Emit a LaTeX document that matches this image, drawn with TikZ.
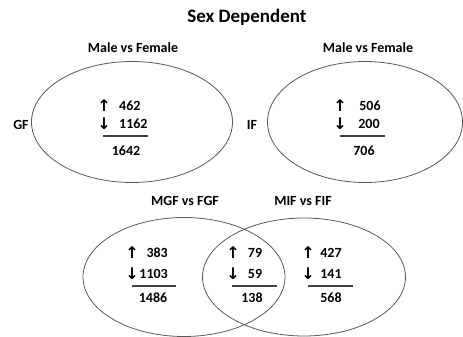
\documentclass[tikz,border=0pt]{standalone}
\usepackage{fontspec}
\setmainfont{Carlito}
\newfontfamily\arrowfont{DejaVu Sans}
\usetikzlibrary{shapes.geometric}
\tikzset{
  venn/.style={ellipse,draw=black!65,line width=0.8pt,inner sep=0pt},
  lbl/.style={font=\bfseries\fontsize{14}{15}\selectfont,inner sep=0pt,text=black},
  num/.style={font=\bfseries\fontsize{14}{15}\selectfont,inner sep=0pt,text=black},
  arr/.style={font=\arrowfont\bfseries\fontsize{16}{17}\selectfont,inner sep=0pt,text=black},
  bar/.style={draw=black!75,line width=1.4pt}
}
\begin{document}
\begin{tikzpicture}[x=1pt,y=-1pt]
\useasboundingbox (0,0) rectangle (463,337);
% title
\node[lbl,font=\bfseries\fontsize{19}{20}\selectfont] (title) at (247,17) {Sex Dependent};
% top ellipses
\node[venn,minimum width=201pt,minimum height=121pt] (eGF) at (132,122) {};
\node[venn,minimum width=195pt,minimum height=121pt] (eIF) at (365,122) {};
\node[lbl] (tGF) at (133,48) {Male vs Female};
\node[lbl] (tIF) at (368,48) {Male vs Female};
\node[lbl] (GF) at (21,125) {GF};
\node[lbl] (IF) at (252,125) {IF};
% GF numbers
\node[arr] (aGFu) at (104,106) {↑};
\node[arr] (aGFd) at (104,124) {↓};
\node[num,anchor=west] (nGFu) at (119,106) {462};
\node[num,anchor=west] (nGFd) at (119,124) {1162};
\coordinate (bGFl) at (103,136);
\coordinate (bGFr) at (148,136);
\draw[bar] (bGFl) -- (bGFr);
\node[num] (nGFt) at (126,151) {1642};
% IF numbers
\node[arr] (aIFu) at (340,106) {↑};
\node[arr] (aIFd) at (340,124) {↓};
\node[num] (nIFu) at (370,106) {506};
\node[num] (nIFd) at (369,124) {200};
\coordinate (bIFl) at (340,136);
\coordinate (bIFr) at (385,136);
\draw[bar] (bIFl) -- (bIFr);
\node[num] (nIFt) at (364,151) {706};
% bottom ellipses
\node[venn,minimum width=202pt,minimum height=119pt] (eMGF) at (184,277) {};
\node[venn,minimum width=203pt,minimum height=118pt] (eMIF) at (304,277) {};
\node[lbl] (tMGF) at (185,201) {MGF vs FGF};
\node[lbl] (tMIF) at (303,201) {MIF vs FIF};
% left numbers
\node[arr] (aLu) at (132,253) {↑};
\node[arr] (aLd) at (132,274) {↓};
\node[num,anchor=east] (nLu) at (168,253) {383};
\node[num,anchor=east] (nLd) at (168,274) {1103};
\coordinate (bLl) at (132,286);
\coordinate (bLr) at (176,286);
\draw[bar] (bLl) -- (bLr);
\node[num] (nLt) at (153,298) {1486};
% middle numbers
\node[arr] (aMu) at (233,253) {↑};
\node[arr] (aMd) at (233,274) {↓};
\node[num] (nMu) at (255,253) {79};
\node[num] (nMd) at (255,274) {59};
\coordinate (bMl) at (232,286);
\coordinate (bMr) at (277,286);
\draw[bar] (bMl) -- (bMr);
\node[num] (nMt) at (252,298) {138};
% right numbers
\node[arr] (aRu) at (308,253) {↑};
\node[arr] (aRd) at (308,274) {↓};
\node[num] (nRu) at (331,253) {427};
\node[num] (nRd) at (331,274) {141};
\coordinate (bRl) at (308,286);
\coordinate (bRr) at (353,286);
\draw[bar] (bRl) -- (bRr);
\node[num] (nRt) at (331,298) {568};
\end{tikzpicture}
\end{document}
